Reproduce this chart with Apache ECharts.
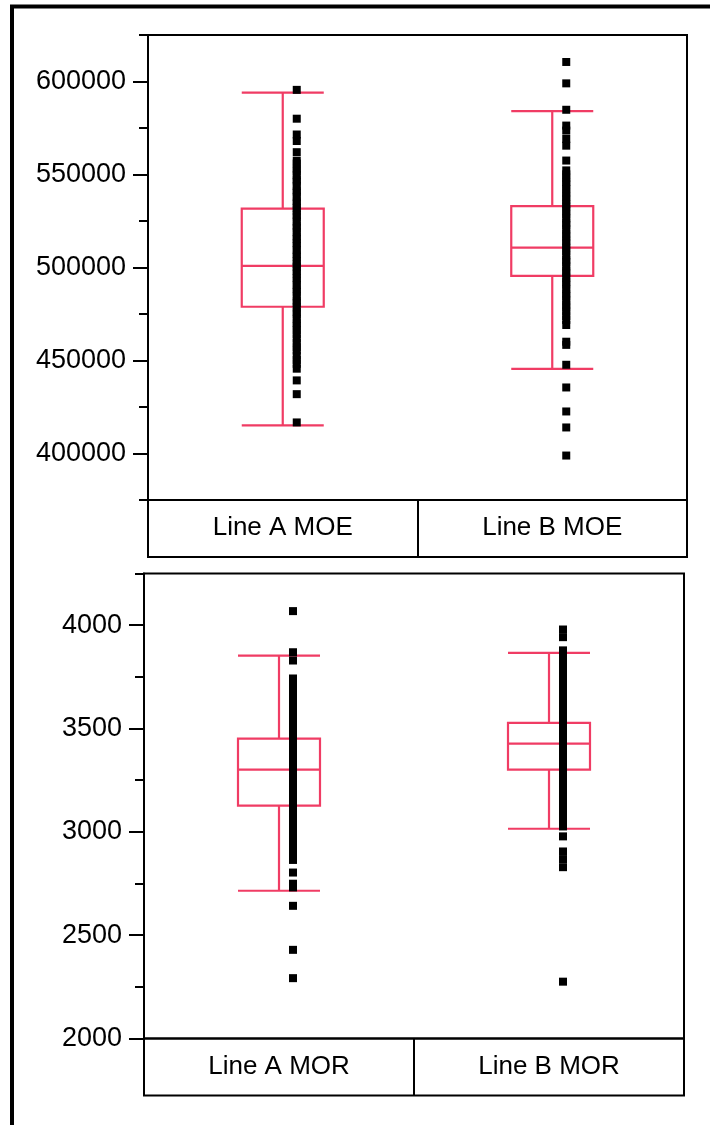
<!DOCTYPE html>
<html>
<head>
<meta charset="utf-8">
<title>MOE / MOR by line</title>
<script src="https://cdn.jsdelivr.net/npm/echarts@6/dist/echarts.min.js"></script>
<style>
  html, body { margin: 0; padding: 0; background: #fff; }
  #chart { width: 710px; height: 1125px; }
</style>
</head>
<body>
<div id="chart"></div>
<script>
"use strict";

// categories
const moeLabels = ["Line A MOE", "Line B MOE"];
const morLabels = ["Line A MOR", "Line B MOR"];

// box stats: [lower whisker, Q1, median, Q3, upper whisker]
const moeBoxA = [415100, 478900, 500900, 531600, 594000];
const moeBoxB = [445500, 495500, 510700, 533000, 584100];
const morBoxA = [2715, 3127, 3301, 3451, 3853];
const morBoxB = [3015, 3301, 3427, 3527, 3866];

const moeLineA = [595500, 580000, 571500, 568000, 562000, 557400, 555900, 553200, 551800, 549600, 547300, 546100, 543800, 541500, 540200, 538000, 535700, 534400, 532100, 530600, 528300, 526900, 524700, 522500, 521200, 519000, 516800, 515300, 513100, 511600, 509400, 507200, 505800, 503500, 501900, 500400, 498100, 496700, 494300, 492800, 490600, 488400, 486900, 484500, 482300, 480800, 478600, 476200, 474700, 472400, 470100, 468500, 466300, 464200, 461800, 459500, 457200, 455400, 452600, 450300, 448200, 445600, 439300, 431900, 416700];
const moeLineB = [610500, 599000, 584800, 576300, 573600, 569100, 565500, 557500, 552200, 550100, 548300, 546000, 544600, 542200, 540400, 538100, 536500, 534200, 532700, 530300, 528600, 526400, 524100, 522800, 520500, 518300, 516700, 514400, 512900, 510600, 508800, 506500, 504200, 502900, 500600, 498400, 496800, 494500, 492300, 490700, 488400, 486100, 484600, 482300, 480100, 478400, 476300, 473900, 471800, 469100, 460100, 458400, 447700, 435500, 422600, 414000, 398900];
const morLineA = [4068, 3869, 3829, 3742, 3708, 3695, 3683, 3668, 3657, 3641, 3630, 3616, 3603, 3591, 3578, 3562, 3551, 3537, 3524, 3512, 3497, 3485, 3471, 3459, 3444, 3432, 3418, 3405, 3393, 3379, 3366, 3352, 3340, 3326, 3313, 3299, 3287, 3272, 3261, 3247, 3234, 3221, 3207, 3195, 3181, 3168, 3154, 3142, 3128, 3115, 3101, 3089, 3074, 3062, 3049, 3035, 3022, 3008, 2996, 2981, 2968, 2955, 2941, 2929, 2914, 2901, 2889, 2876, 2864, 2803, 2749, 2731, 2642, 2429, 2292];
const morLineB = [3979, 3942, 3878, 3866, 3851, 3839, 3824, 3812, 3797, 3785, 3771, 3758, 3744, 3732, 3717, 3705, 3691, 3678, 3664, 3652, 3638, 3625, 3611, 3598, 3585, 3571, 3558, 3546, 3532, 3519, 3505, 3493, 3479, 3466, 3452, 3440, 3426, 3413, 3399, 3387, 3373, 3360, 3347, 3334, 3320, 3307, 3294, 3281, 3267, 3254, 3241, 3228, 3214, 3201, 3188, 3175, 3161, 3148, 3135, 3122, 3108, 3095, 3082, 3069, 3055, 3042, 3026, 2978, 2905, 2868, 2829, 2275];

// axis ranges and ticks
const moeRange = [375000, 625000];
const moeStep = 25000;
const moeMajor = [400000, 450000, 500000, 550000, 600000];
const morRange = [2000, 4250];
const morStep = 250;
const morMajor = [2000, 2500, 3000, 3500, 4000];

const colors = { box: "#f03c64", ink: "#000" };
const font = "'Liberation Sans', Arial, sans-serif";

const chart = echarts.init(document.getElementById("chart"), null, { renderer: "canvas" });

const frame = { show: true, borderColor: colors.ink, borderWidth: 2, backgroundColor: "transparent" };
const grids = [
  { ...frame, left: 148, right: 23, top: 35, height: 465 },
  { ...frame, left: 148, right: 23, top: 500, height: 57 },
  { ...frame, left: 144, right: 26, top: 573.5, height: 465 },
  { ...frame, left: 144, right: 26, top: 1038.5, height: 57 },
];

function plotX(gridIndex, labels) {
  return {
    type: "category", gridIndex, data: labels,
    axisLine: { show: false }, axisTick: { show: false }, axisLabel: { show: false }, splitLine: { show: false },
  };
}

function bandX(gridIndex, labels) {
  return {
    type: "category", gridIndex, data: labels, position: "top",
    axisLine: { show: false }, axisTick: { show: false },
    splitLine: { show: true, lineStyle: { color: colors.ink, width: 2 } },
    axisLabel: { inside: true, margin: 15, fontSize: 26, color: colors.ink, fontFamily: font },
  };
}

function valueAxes(gridIndex, range, step, majors) {
  const base = { type: "value", gridIndex, position: "left", min: range[0], max: range[1], interval: step, splitLine: { show: false } };
  return [
    {
      ...base,
      axisLine: { show: true, lineStyle: { color: colors.ink, width: 2 } },
      axisTick: { show: true, length: 9, lineStyle: { color: colors.ink, width: 2 } },
      axisLabel: {
        margin: 22, fontSize: 27, color: colors.ink, fontFamily: font,
        formatter: (v) => (majors.includes(v) ? String(v) : ""),
      },
    },
    {
      ...base,
      axisLine: { show: false },
      axisTick: { show: true, length: 15, customValues: majors, lineStyle: { color: colors.ink, width: 2 } },
      axisLabel: { show: false },
    },
  ];
}

function hiddenY(gridIndex) {
  return { type: "value", gridIndex, show: false, min: 0, max: 1 };
}

const xAxis = [plotX(0, moeLabels), bandX(1, moeLabels), plotX(2, morLabels), bandX(3, morLabels)];
const yAxis = [
  ...valueAxes(0, moeRange, moeStep, moeMajor),
  hiddenY(1),
  ...valueAxes(2, morRange, morStep, morMajor),
  hiddenY(3),
];

function boxes(xAxisIndex, yAxisIndex, data) {
  return {
    type: "boxplot", xAxisIndex, yAxisIndex, data, boxWidth: [82, 82], silent: true, z: 2,
    itemStyle: { color: "#fff", borderColor: colors.box, borderWidth: 2.2 },
  };
}

function strip(xAxisIndex, yAxisIndex, columns) {
  const data = [];
  columns.forEach((values, index) => values.forEach((v) => data.push([index, v])));
  return {
    type: "scatter", xAxisIndex, yAxisIndex, data, symbol: "rect", symbolSize: 8,
    symbolOffset: [14, 0], silent: true, z: 3, itemStyle: { color: colors.ink, opacity: 1 },
  };
}

chart.setOption({
  animation: false,
  backgroundColor: "#fff",
  grid: grids,
  xAxis,
  yAxis,
  series: [
    boxes(0, 0, [moeBoxA, moeBoxB]),
    strip(0, 0, [moeLineA, moeLineB]),
    boxes(2, 3, [morBoxA, morBoxB]),
    strip(2, 3, [morLineA, morLineB]),
  ],
  graphic: [
    { type: "line", silent: true, shape: { x1: 10, y1: 6.5, x2: 710, y2: 6.5 }, style: { stroke: colors.ink, lineWidth: 4 } },
    { type: "line", silent: true, shape: { x1: 12, y1: 5, x2: 12, y2: 1125 }, style: { stroke: colors.ink, lineWidth: 4 } },
  ],
});
</script>
</body>
</html>
